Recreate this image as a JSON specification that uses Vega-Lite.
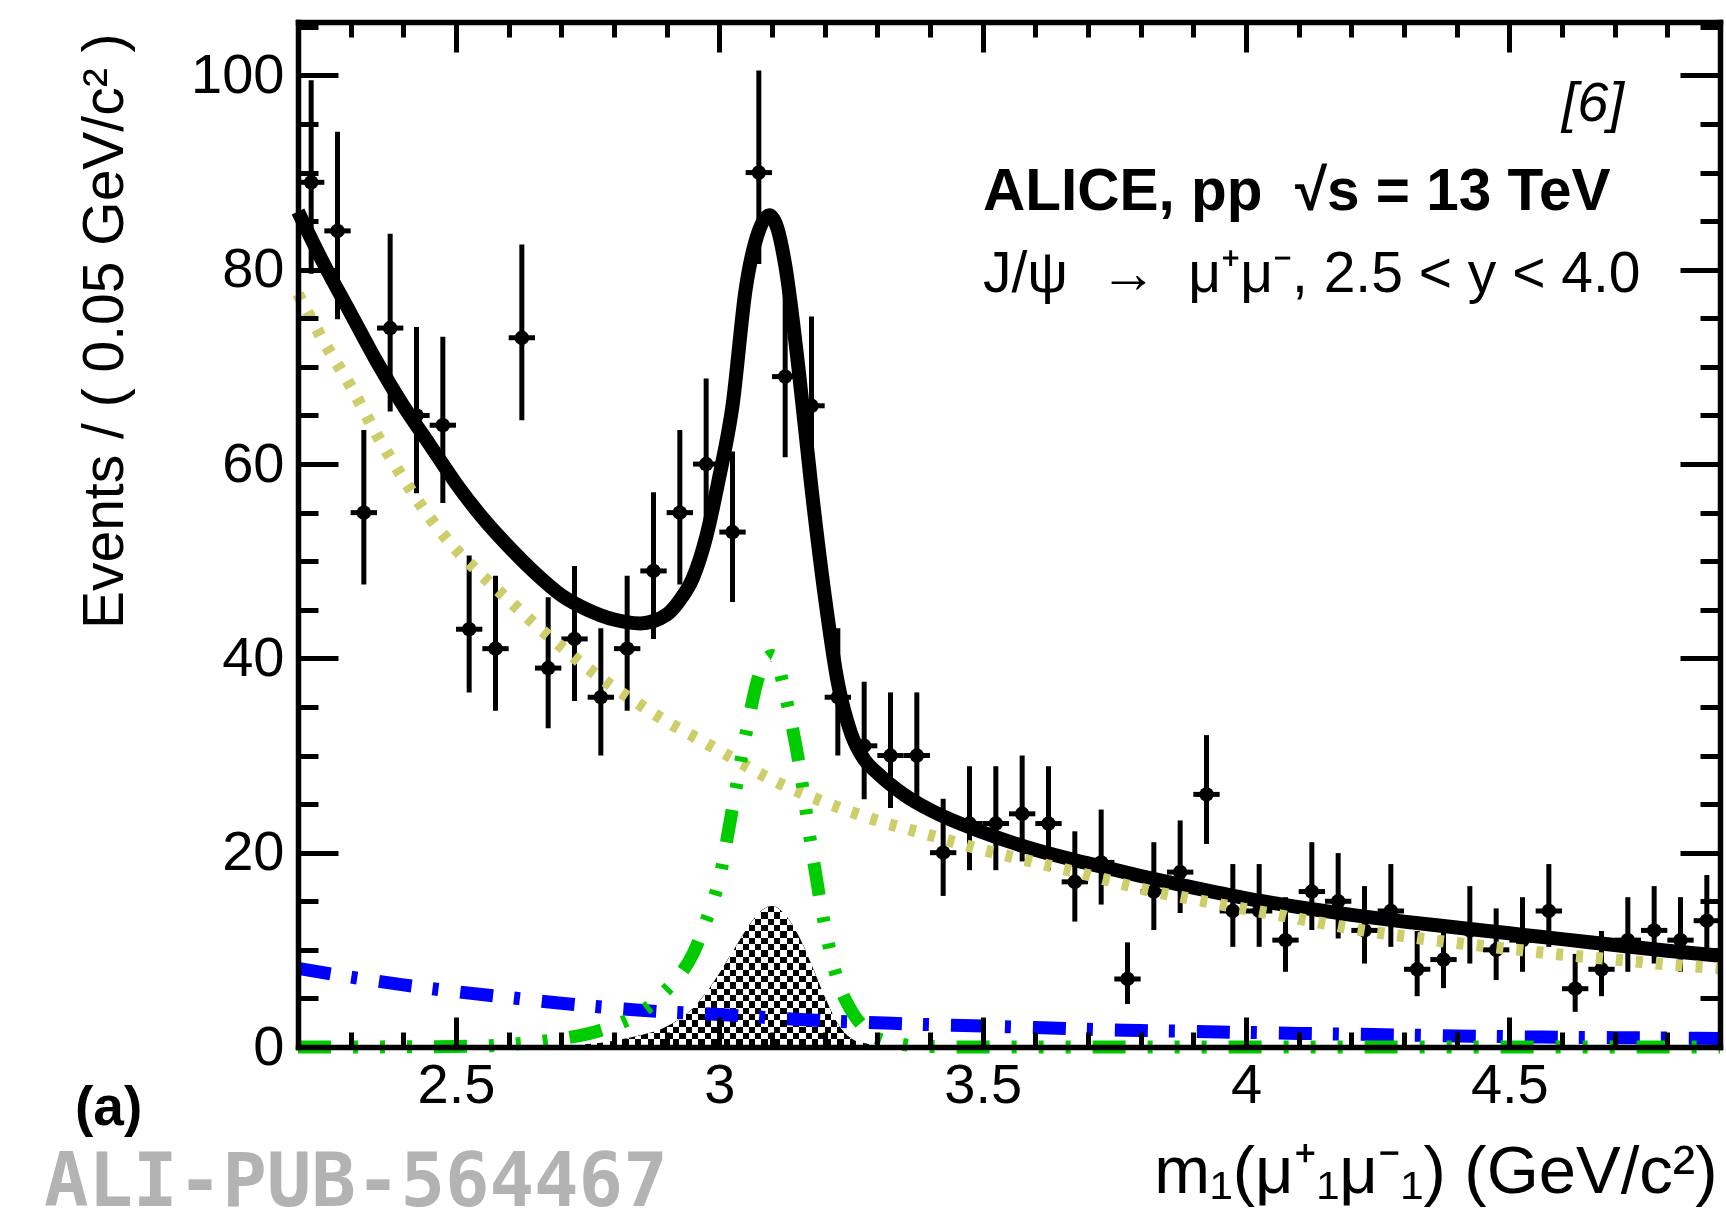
{
  "$schema": "https://vega.github.io/schema/vega-lite/v6.json",
  "width": 1422,
  "height": 1025,
  "autosize": {"type": "none"},
  "padding": {"left": 298, "top": 22, "right": 6, "bottom": 179},
  "background": "white",
  "config": {
    "view": {"stroke": null},
    "font": "Liberation Sans",
    "axis": {"grid": false, "labelFont": "Liberation Sans", "titleFont": "Liberation Sans", "labelColor": "black", "titleColor": "black", "tickColor": "black", "domainColor": "black"}
  },
  "datasets": {
    "points": [
      {"m": 2.225, "n": 89, "lo": 79.6, "hi": 99.5, "m1": 2.2, "m2": 2.25},
      {"m": 2.275, "n": 84, "lo": 74.9, "hi": 94.2, "m1": 2.25, "m2": 2.3},
      {"m": 2.325, "n": 55, "lo": 47.6, "hi": 63.5, "m1": 2.3, "m2": 2.35},
      {"m": 2.375, "n": 74, "lo": 65.4, "hi": 83.7, "m1": 2.35, "m2": 2.4},
      {"m": 2.425, "n": 65, "lo": 57.0, "hi": 74.1, "m1": 2.4, "m2": 2.45},
      {"m": 2.475, "n": 64, "lo": 56.0, "hi": 73.1, "m1": 2.45, "m2": 2.5},
      {"m": 2.525, "n": 43, "lo": 36.5, "hi": 50.6, "m1": 2.5, "m2": 2.55},
      {"m": 2.575, "n": 41, "lo": 34.6, "hi": 48.5, "m1": 2.55, "m2": 2.6},
      {"m": 2.625, "n": 73, "lo": 64.5, "hi": 82.6, "m1": 2.6, "m2": 2.65},
      {"m": 2.675, "n": 39, "lo": 32.8, "hi": 46.3, "m1": 2.65, "m2": 2.7},
      {"m": 2.725, "n": 42, "lo": 35.6, "hi": 49.5, "m1": 2.7, "m2": 2.75},
      {"m": 2.775, "n": 36, "lo": 30.0, "hi": 43.1, "m1": 2.75, "m2": 2.8},
      {"m": 2.825, "n": 41, "lo": 34.6, "hi": 48.5, "m1": 2.8, "m2": 2.85},
      {"m": 2.875, "n": 49, "lo": 42.0, "hi": 57.1, "m1": 2.85, "m2": 2.9},
      {"m": 2.925, "n": 55, "lo": 47.6, "hi": 63.5, "m1": 2.9, "m2": 2.95},
      {"m": 2.975, "n": 60, "lo": 52.3, "hi": 68.8, "m1": 2.95, "m2": 3.0},
      {"m": 3.025, "n": 53, "lo": 45.8, "hi": 61.3, "m1": 3.0, "m2": 3.05},
      {"m": 3.075, "n": 90, "lo": 80.6, "hi": 100.5, "m1": 3.05, "m2": 3.1},
      {"m": 3.125, "n": 69, "lo": 60.7, "hi": 78.4, "m1": 3.1, "m2": 3.15},
      {"m": 3.175, "n": 66, "lo": 57.9, "hi": 75.2, "m1": 3.15, "m2": 3.2},
      {"m": 3.225, "n": 36, "lo": 30.0, "hi": 43.1, "m1": 3.2, "m2": 3.25},
      {"m": 3.275, "n": 31, "lo": 25.5, "hi": 37.6, "m1": 3.25, "m2": 3.3},
      {"m": 3.325, "n": 30, "lo": 24.6, "hi": 36.5, "m1": 3.3, "m2": 3.35},
      {"m": 3.375, "n": 30, "lo": 24.6, "hi": 36.5, "m1": 3.35, "m2": 3.4},
      {"m": 3.425, "n": 20, "lo": 15.55, "hi": 25.55, "m1": 3.4, "m2": 3.45},
      {"m": 3.475, "n": 23, "lo": 18.2, "hi": 28.9, "m1": 3.45, "m2": 3.5},
      {"m": 3.525, "n": 23, "lo": 18.2, "hi": 28.9, "m1": 3.5, "m2": 3.55},
      {"m": 3.575, "n": 24, "lo": 19.1, "hi": 30.0, "m1": 3.55, "m2": 3.6},
      {"m": 3.625, "n": 23, "lo": 18.2, "hi": 28.9, "m1": 3.6, "m2": 3.65},
      {"m": 3.675, "n": 17, "lo": 12.91, "hi": 22.2, "m1": 3.65, "m2": 3.7},
      {"m": 3.725, "n": 19, "lo": 14.66, "hi": 24.44, "m1": 3.7, "m2": 3.75},
      {"m": 3.775, "n": 7, "lo": 4.42, "hi": 10.77, "m1": 3.75, "m2": 3.8},
      {"m": 3.825, "n": 16, "lo": 12.04, "hi": 21.08, "m1": 3.8, "m2": 3.85},
      {"m": 3.875, "n": 18, "lo": 13.79, "hi": 23.32, "m1": 3.85, "m2": 3.9},
      {"m": 3.925, "n": 26, "lo": 20.9, "hi": 32.1, "m1": 3.9, "m2": 3.95},
      {"m": 3.975, "n": 14, "lo": 10.31, "hi": 18.83, "m1": 3.95, "m2": 4.0},
      {"m": 4.025, "n": 14, "lo": 10.31, "hi": 18.83, "m1": 4.0, "m2": 4.05},
      {"m": 4.075, "n": 11, "lo": 7.74, "hi": 15.42, "m1": 4.05, "m2": 4.1},
      {"m": 4.125, "n": 16, "lo": 12.04, "hi": 21.08, "m1": 4.1, "m2": 4.15},
      {"m": 4.175, "n": 15, "lo": 11.17, "hi": 19.96, "m1": 4.15, "m2": 4.2},
      {"m": 4.225, "n": 12, "lo": 8.59, "hi": 16.56, "m1": 4.2, "m2": 4.25},
      {"m": 4.275, "n": 14, "lo": 10.31, "hi": 18.83, "m1": 4.25, "m2": 4.3},
      {"m": 4.325, "n": 8, "lo": 5.23, "hi": 11.94, "m1": 4.3, "m2": 4.35},
      {"m": 4.375, "n": 9, "lo": 6.06, "hi": 13.09, "m1": 4.35, "m2": 4.4},
      {"m": 4.425, "n": 12, "lo": 8.59, "hi": 16.56, "m1": 4.4, "m2": 4.45},
      {"m": 4.475, "n": 10, "lo": 6.89, "hi": 14.27, "m1": 4.45, "m2": 4.5},
      {"m": 4.525, "n": 11, "lo": 7.74, "hi": 15.42, "m1": 4.5, "m2": 4.55},
      {"m": 4.575, "n": 14, "lo": 10.31, "hi": 18.83, "m1": 4.55, "m2": 4.6},
      {"m": 4.625, "n": 6, "lo": 3.62, "hi": 9.58, "m1": 4.6, "m2": 4.65},
      {"m": 4.675, "n": 8, "lo": 5.23, "hi": 11.94, "m1": 4.65, "m2": 4.7},
      {"m": 4.725, "n": 11, "lo": 7.74, "hi": 15.42, "m1": 4.7, "m2": 4.75},
      {"m": 4.775, "n": 12, "lo": 8.59, "hi": 16.56, "m1": 4.75, "m2": 4.8},
      {"m": 4.825, "n": 11, "lo": 7.74, "hi": 15.42, "m1": 4.8, "m2": 4.85},
      {"m": 4.875, "n": 13, "lo": 9.45, "hi": 17.7, "m1": 4.85, "m2": 4.9}
    ],
    "total": [
      {"m": 2.2, "v": 86}, {"m": 2.25, "v": 80.5}, {"m": 2.3, "v": 75.5}, {"m": 2.35, "v": 70.5},
      {"m": 2.4, "v": 66}, {"m": 2.45, "v": 62}, {"m": 2.5, "v": 58}, {"m": 2.55, "v": 54.5},
      {"m": 2.6, "v": 51.5}, {"m": 2.65, "v": 48.8}, {"m": 2.7, "v": 46.5}, {"m": 2.75, "v": 45},
      {"m": 2.8, "v": 44}, {"m": 2.85, "v": 43.6}, {"m": 2.9, "v": 44.5}, {"m": 2.925, "v": 46},
      {"m": 2.95, "v": 48.3}, {"m": 2.975, "v": 52.5}, {"m": 3.0, "v": 58.7}, {"m": 3.025, "v": 66},
      {"m": 3.05, "v": 78}, {"m": 3.075, "v": 84}, {"m": 3.095, "v": 85.6}, {"m": 3.11, "v": 84.3},
      {"m": 3.125, "v": 80.5}, {"m": 3.15, "v": 70}, {"m": 3.175, "v": 57.5}, {"m": 3.2, "v": 46.5},
      {"m": 3.225, "v": 37.5}, {"m": 3.25, "v": 32.3}, {"m": 3.275, "v": 29.6}, {"m": 3.3, "v": 28.2},
      {"m": 3.35, "v": 26}, {"m": 3.4, "v": 24.4}, {"m": 3.5, "v": 22.1}, {"m": 3.6, "v": 20.3},
      {"m": 3.7, "v": 18.9}, {"m": 3.8, "v": 17.6}, {"m": 3.9, "v": 16.4}, {"m": 4.0, "v": 15.3},
      {"m": 4.1, "v": 14.4}, {"m": 4.2, "v": 13.6}, {"m": 4.3, "v": 12.9}, {"m": 4.4, "v": 12.3},
      {"m": 4.5, "v": 11.7}, {"m": 4.6, "v": 11.1}, {"m": 4.7, "v": 10.5}, {"m": 4.8, "v": 9.9},
      {"m": 4.9, "v": 9.4}
    ],
    "bkg": [
      {"m": 2.2, "v": 77.5}, {"m": 2.25, "v": 72.5}, {"m": 2.3, "v": 68}, {"m": 2.35, "v": 63},
      {"m": 2.4, "v": 58.5}, {"m": 2.45, "v": 54.5}, {"m": 2.5, "v": 51.2}, {"m": 2.55, "v": 48.5},
      {"m": 2.6, "v": 46}, {"m": 2.65, "v": 43.5}, {"m": 2.7, "v": 41.2}, {"m": 2.75, "v": 39},
      {"m": 2.8, "v": 37}, {"m": 2.85, "v": 35.2}, {"m": 2.9, "v": 33.5}, {"m": 2.95, "v": 32},
      {"m": 3.0, "v": 30.5}, {"m": 3.1, "v": 27.5}, {"m": 3.2, "v": 25.2}, {"m": 3.3, "v": 23.3},
      {"m": 3.4, "v": 21.8}, {"m": 3.5, "v": 20.3}, {"m": 3.6, "v": 19.0}, {"m": 3.7, "v": 17.7},
      {"m": 3.8, "v": 16.3}, {"m": 3.9, "v": 15.2}, {"m": 4.0, "v": 14.2}, {"m": 4.1, "v": 13.2},
      {"m": 4.2, "v": 12.2}, {"m": 4.3, "v": 11.4}, {"m": 4.4, "v": 10.7}, {"m": 4.5, "v": 10.1},
      {"m": 4.6, "v": 9.5}, {"m": 4.7, "v": 9.0}, {"m": 4.8, "v": 8.5}, {"m": 4.9, "v": 8.1}
    ],
    "blue": [
      {"m": 2.2, "v": 8.1}, {"m": 2.3, "v": 7.2}, {"m": 2.4, "v": 6.4}, {"m": 2.5, "v": 5.7},
      {"m": 2.6, "v": 5.1}, {"m": 2.7, "v": 4.5}, {"m": 2.8, "v": 4.0}, {"m": 2.9, "v": 3.6},
      {"m": 3.0, "v": 3.35}, {"m": 3.1, "v": 3.0}, {"m": 3.2, "v": 2.7}, {"m": 3.3, "v": 2.5},
      {"m": 3.4, "v": 2.3}, {"m": 3.5, "v": 2.15}, {"m": 3.6, "v": 2.0}, {"m": 3.7, "v": 1.82},
      {"m": 3.8, "v": 1.7}, {"m": 3.9, "v": 1.6}, {"m": 4.0, "v": 1.5}, {"m": 4.1, "v": 1.4},
      {"m": 4.2, "v": 1.32}, {"m": 4.3, "v": 1.23}, {"m": 4.4, "v": 1.14}, {"m": 4.5, "v": 1.06},
      {"m": 4.6, "v": 1.0}, {"m": 4.7, "v": 0.96}, {"m": 4.8, "v": 0.92}, {"m": 4.9, "v": 0.88}
    ],
    "green": [
      {"m": 2.2, "v": 0}, {"m": 2.4, "v": 0.02}, {"m": 2.5, "v": 0.05}, {"m": 2.6, "v": 0.25},
      {"m": 2.65, "v": 0.5}, {"m": 2.7, "v": 0.85}, {"m": 2.75, "v": 1.35}, {"m": 2.8, "v": 2.2},
      {"m": 2.85, "v": 3.5}, {"m": 2.9, "v": 5.9}, {"m": 2.925, "v": 7.4}, {"m": 2.95, "v": 9.6},
      {"m": 2.975, "v": 13.0}, {"m": 3.0, "v": 17.3}, {"m": 3.025, "v": 24.6}, {"m": 3.05, "v": 32.1},
      {"m": 3.075, "v": 38.2}, {"m": 3.09, "v": 40.0}, {"m": 3.1, "v": 40.3}, {"m": 3.11, "v": 39.6},
      {"m": 3.125, "v": 36.3}, {"m": 3.15, "v": 29.6}, {"m": 3.175, "v": 20.5}, {"m": 3.2, "v": 12.5},
      {"m": 3.225, "v": 6.8}, {"m": 3.25, "v": 3.8}, {"m": 3.275, "v": 2.0}, {"m": 3.3, "v": 0.9},
      {"m": 3.35, "v": 0.25}, {"m": 3.4, "v": 0.05}, {"m": 3.5, "v": 0}, {"m": 4.9, "v": 0}
    ],
    "hatch": [
      {"m": 2.72, "v": 0.15}, {"m": 2.75, "v": 0.3}, {"m": 2.8, "v": 0.65}, {"m": 2.85, "v": 1.2},
      {"m": 2.9, "v": 2.1}, {"m": 2.925, "v": 2.9}, {"m": 2.95, "v": 4.0}, {"m": 2.975, "v": 5.6},
      {"m": 3.0, "v": 7.6}, {"m": 3.025, "v": 9.8}, {"m": 3.05, "v": 12.0}, {"m": 3.075, "v": 13.8},
      {"m": 3.1, "v": 14.5}, {"m": 3.125, "v": 13.6}, {"m": 3.15, "v": 11.5}, {"m": 3.175, "v": 8.5},
      {"m": 3.2, "v": 5.2}, {"m": 3.225, "v": 2.4}, {"m": 3.25, "v": 0.9}, {"m": 3.275, "v": 0.4},
      {"m": 3.3, "v": 0.15}, {"m": 3.32, "v": 0.05}
    ]
  },
  "resolve": {"axis": {"x": "independent", "y": "independent"}},
  "layer": [
    {
      "data": {"name": "points"},
      "mark": {"type": "rule", "color": "black", "strokeWidth": 5},
      "encoding": {
        "x": {"field": "m1", "type": "quantitative", "scale": {"domain": [2.2, 4.9], "nice": false, "zero": false},
          "axis": {"orient": "bottom", "values": [2.5, 3, 3.5, 4, 4.5], "format": "~g", "ticks": false, "domain": false,
            "labelFontSize": 56, "labelPadding": 11, "labelFlush": false, "labelOverlap": false,
            "title": "m₁(μ⁺₁μ⁻₁) (GeV/c²)", "titleFontSize": 67, "titleFontWeight": "normal",
            "titleAlign": "right", "titleBaseline": "alphabetic", "titleAnchor": "end", "titleX": 1419, "titleY": 145}},
        "x2": {"field": "m2"},
        "y": {"field": "n", "type": "quantitative", "scale": {"domain": [0, 105.5], "nice": false, "zero": false},
          "axis": {"orient": "left", "values": [0, 20, 40, 60, 80, 100], "format": "d", "ticks": false, "domain": false,
            "labelFontSize": 56, "labelPadding": 14, "labelOverlap": false,
            "title": "Events / ( 0.05 GeV/c² )", "titleFontSize": 57, "titleFontWeight": "normal",
            "titleAngle": -90, "titleAlign": "right", "titleBaseline": "bottom", "titleAnchor": "end", "titleX": -164, "titleY": 11}}
      }
    },
    {
      "data": {"name": "points"},
      "mark": {"type": "rule", "color": "black", "strokeWidth": 5},
      "encoding": {
        "x": {"field": "m", "type": "quantitative", "scale": {"domain": [2.2, 4.9], "nice": false, "zero": false},
          "axis": {"orient": "bottom", "values": [2.5, 3, 3.5, 4, 4.5], "labels": false, "title": null,
            "tickSize": -30, "tickWidth": 5, "domain": true, "domainWidth": 5.5, "domainCap": "square", "zindex": 2}},
        "y": {"field": "lo", "type": "quantitative", "scale": {"domain": [0, 105.5], "nice": false, "zero": false},
          "axis": {"orient": "left", "values": [0, 20, 40, 60, 80, 100], "labels": false, "title": null,
            "tickSize": -40, "tickWidth": 5, "domain": true, "domainWidth": 5.5, "domainCap": "square", "zindex": 2}},
        "y2": {"field": "hi"}
      }
    },
    {
      "data": {"name": "points"},
      "mark": {"type": "point", "shape": "circle", "filled": true, "color": "black", "opacity": 1, "size": 210},
      "encoding": {
        "x": {"field": "m", "type": "quantitative", "scale": {"domain": [2.2, 4.9], "nice": false, "zero": false},
          "axis": {"orient": "bottom", "values": [2.2, 2.3, 2.4, 2.5, 2.6, 2.7, 2.8, 2.9, 3.0, 3.1, 3.2, 3.3, 3.4, 3.5, 3.6, 3.7, 3.8, 3.9, 4.0, 4.1, 4.2, 4.3, 4.4, 4.5, 4.6, 4.7, 4.8, 4.9],
            "labels": false, "title": null, "tickSize": -15, "tickWidth": 5, "domain": false, "zindex": 2}},
        "y": {"field": "n", "type": "quantitative", "scale": {"domain": [0, 105.5], "nice": false, "zero": false},
          "axis": {"orient": "left", "values": [0, 5, 10, 15, 20, 25, 30, 35, 40, 45, 50, 55, 60, 65, 70, 75, 80, 85, 90, 95, 100, 105],
            "labels": false, "title": null, "tickSize": -20, "tickWidth": 5, "domain": false, "zindex": 2}}
      }
    },
    {
      "data": {"name": "total"},
      "mark": {"type": "line", "color": "black", "strokeWidth": 14, "interpolate": "monotone"},
      "encoding": {
        "x": {"field": "m", "type": "quantitative", "scale": {"domain": [2.2, 4.9], "nice": false, "zero": false},
          "axis": {"orient": "top", "values": [2.5, 3, 3.5, 4, 4.5], "labels": false, "title": null,
            "tickSize": -30, "tickWidth": 5, "domain": true, "domainWidth": 5.5, "domainCap": "square", "zindex": 2}},
        "y": {"field": "v", "type": "quantitative", "scale": {"domain": [0, 105.5], "nice": false, "zero": false},
          "axis": {"orient": "right", "values": [0, 20, 40, 60, 80, 100], "labels": false, "title": null,
            "tickSize": -40, "tickWidth": 5, "domain": true, "domainWidth": 5.5, "domainCap": "square", "zindex": 2}}
      }
    },
    {
      "data": {"name": "hatch"},
      "mark": {"type": "area", "interpolate": "monotone",
        "fill": {"gradient": "linear", "x1": 0, "y1": 0, "x2": 1, "y2": 0, "stops": [
          {"offset": 0, "color": "#000"}, {"offset": 0.02, "color": "#000"}, {"offset": 0.02, "color": "#fff"}, {"offset": 0.04, "color": "#fff"},
          {"offset": 0.04, "color": "#000"}, {"offset": 0.06, "color": "#000"}, {"offset": 0.06, "color": "#fff"}, {"offset": 0.08, "color": "#fff"},
          {"offset": 0.08, "color": "#000"}, {"offset": 0.1, "color": "#000"}, {"offset": 0.1, "color": "#fff"}, {"offset": 0.12, "color": "#fff"},
          {"offset": 0.12, "color": "#000"}, {"offset": 0.14, "color": "#000"}, {"offset": 0.14, "color": "#fff"}, {"offset": 0.16, "color": "#fff"},
          {"offset": 0.16, "color": "#000"}, {"offset": 0.18, "color": "#000"}, {"offset": 0.18, "color": "#fff"}, {"offset": 0.2, "color": "#fff"},
          {"offset": 0.2, "color": "#000"}, {"offset": 0.22, "color": "#000"}, {"offset": 0.22, "color": "#fff"}, {"offset": 0.24, "color": "#fff"},
          {"offset": 0.24, "color": "#000"}, {"offset": 0.26, "color": "#000"}, {"offset": 0.26, "color": "#fff"}, {"offset": 0.28, "color": "#fff"},
          {"offset": 0.28, "color": "#000"}, {"offset": 0.3, "color": "#000"}, {"offset": 0.3, "color": "#fff"}, {"offset": 0.32, "color": "#fff"},
          {"offset": 0.32, "color": "#000"}, {"offset": 0.34, "color": "#000"}, {"offset": 0.34, "color": "#fff"}, {"offset": 0.36, "color": "#fff"},
          {"offset": 0.36, "color": "#000"}, {"offset": 0.38, "color": "#000"}, {"offset": 0.38, "color": "#fff"}, {"offset": 0.4, "color": "#fff"},
          {"offset": 0.4, "color": "#000"}, {"offset": 0.42, "color": "#000"}, {"offset": 0.42, "color": "#fff"}, {"offset": 0.44, "color": "#fff"},
          {"offset": 0.44, "color": "#000"}, {"offset": 0.46, "color": "#000"}, {"offset": 0.46, "color": "#fff"}, {"offset": 0.48, "color": "#fff"},
          {"offset": 0.48, "color": "#000"}, {"offset": 0.5, "color": "#000"}, {"offset": 0.5, "color": "#fff"}, {"offset": 0.52, "color": "#fff"},
          {"offset": 0.52, "color": "#000"}, {"offset": 0.54, "color": "#000"}, {"offset": 0.54, "color": "#fff"}, {"offset": 0.56, "color": "#fff"},
          {"offset": 0.56, "color": "#000"}, {"offset": 0.58, "color": "#000"}, {"offset": 0.58, "color": "#fff"}, {"offset": 0.6, "color": "#fff"},
          {"offset": 0.6, "color": "#000"}, {"offset": 0.62, "color": "#000"}, {"offset": 0.62, "color": "#fff"}, {"offset": 0.64, "color": "#fff"},
          {"offset": 0.64, "color": "#000"}, {"offset": 0.66, "color": "#000"}, {"offset": 0.66, "color": "#fff"}, {"offset": 0.68, "color": "#fff"},
          {"offset": 0.68, "color": "#000"}, {"offset": 0.7, "color": "#000"}, {"offset": 0.7, "color": "#fff"}, {"offset": 0.72, "color": "#fff"},
          {"offset": 0.72, "color": "#000"}, {"offset": 0.74, "color": "#000"}, {"offset": 0.74, "color": "#fff"}, {"offset": 0.76, "color": "#fff"},
          {"offset": 0.76, "color": "#000"}, {"offset": 0.78, "color": "#000"}, {"offset": 0.78, "color": "#fff"}, {"offset": 0.8, "color": "#fff"},
          {"offset": 0.8, "color": "#000"}, {"offset": 0.82, "color": "#000"}, {"offset": 0.82, "color": "#fff"}, {"offset": 0.84, "color": "#fff"},
          {"offset": 0.84, "color": "#000"}, {"offset": 0.86, "color": "#000"}, {"offset": 0.86, "color": "#fff"}, {"offset": 0.88, "color": "#fff"},
          {"offset": 0.88, "color": "#000"}, {"offset": 0.9, "color": "#000"}, {"offset": 0.9, "color": "#fff"}, {"offset": 0.92, "color": "#fff"},
          {"offset": 0.92, "color": "#000"}, {"offset": 0.94, "color": "#000"}, {"offset": 0.94, "color": "#fff"}, {"offset": 0.96, "color": "#fff"},
          {"offset": 0.96, "color": "#000"}, {"offset": 0.98, "color": "#000"}, {"offset": 0.98, "color": "#fff"}, {"offset": 1, "color": "#fff"}
        ]}},
      "encoding": {
        "x": {"field": "m", "type": "quantitative", "scale": {"domain": [2.2, 4.9], "nice": false, "zero": false},
          "axis": {"orient": "top", "values": [2.2, 2.3, 2.4, 2.5, 2.6, 2.7, 2.8, 2.9, 3.0, 3.1, 3.2, 3.3, 3.4, 3.5, 3.6, 3.7, 3.8, 3.9, 4.0, 4.1, 4.2, 4.3, 4.4, 4.5, 4.6, 4.7, 4.8, 4.9],
            "labels": false, "title": null, "tickSize": -15, "tickWidth": 5, "domain": false, "zindex": 2}},
        "y": {"field": "v", "type": "quantitative", "scale": {"domain": [0, 105.5], "nice": false, "zero": false},
          "axis": {"orient": "right", "values": [0, 5, 10, 15, 20, 25, 30, 35, 40, 45, 50, 55, 60, 65, 70, 75, 80, 85, 90, 95, 100, 105],
            "labels": false, "title": null, "tickSize": -20, "tickWidth": 5, "domain": false, "zindex": 2}}
      }
    },
    {
      "data": {"name": "hatch"},
      "mark": {"type": "area", "interpolate": "monotone", "blend": "difference",
        "fill": {"gradient": "linear", "x1": 0, "y1": 0, "x2": 0, "y2": 1, "stops": [
          {"offset": 0, "color": "#fff"}, {"offset": 0.045, "color": "#fff"}, {"offset": 0.045, "color": "#000"}, {"offset": 0.09, "color": "#000"},
          {"offset": 0.09, "color": "#fff"}, {"offset": 0.135, "color": "#fff"}, {"offset": 0.135, "color": "#000"}, {"offset": 0.18, "color": "#000"},
          {"offset": 0.18, "color": "#fff"}, {"offset": 0.225, "color": "#fff"}, {"offset": 0.225, "color": "#000"}, {"offset": 0.27, "color": "#000"},
          {"offset": 0.27, "color": "#fff"}, {"offset": 0.315, "color": "#fff"}, {"offset": 0.315, "color": "#000"}, {"offset": 0.36, "color": "#000"},
          {"offset": 0.36, "color": "#fff"}, {"offset": 0.405, "color": "#fff"}, {"offset": 0.405, "color": "#000"}, {"offset": 0.45, "color": "#000"},
          {"offset": 0.45, "color": "#fff"}, {"offset": 0.495, "color": "#fff"}, {"offset": 0.495, "color": "#000"}, {"offset": 0.54, "color": "#000"},
          {"offset": 0.54, "color": "#fff"}, {"offset": 0.585, "color": "#fff"}, {"offset": 0.585, "color": "#000"}, {"offset": 0.63, "color": "#000"},
          {"offset": 0.63, "color": "#fff"}, {"offset": 0.675, "color": "#fff"}, {"offset": 0.675, "color": "#000"}, {"offset": 0.72, "color": "#000"},
          {"offset": 0.72, "color": "#fff"}, {"offset": 0.765, "color": "#fff"}, {"offset": 0.765, "color": "#000"}, {"offset": 0.81, "color": "#000"},
          {"offset": 0.81, "color": "#fff"}, {"offset": 0.855, "color": "#fff"}, {"offset": 0.855, "color": "#000"}, {"offset": 0.9, "color": "#000"},
          {"offset": 0.9, "color": "#fff"}, {"offset": 0.945, "color": "#fff"}, {"offset": 0.945, "color": "#000"}, {"offset": 0.99, "color": "#000"},
          {"offset": 0.99, "color": "#fff"}, {"offset": 1, "color": "#fff"}
        ]}},
      "encoding": {
        "x": {"field": "m", "type": "quantitative", "scale": {"domain": [2.2, 4.9], "nice": false, "zero": false}, "axis": null},
        "y": {"field": "v", "type": "quantitative", "scale": {"domain": [0, 105.5], "nice": false, "zero": false}, "axis": null}
      }
    },
    {
      "data": {"name": "bkg"},
      "mark": {"type": "line", "color": "#cdcd6a", "strokeWidth": 12, "strokeDash": [7, 13], "interpolate": "monotone"},
      "encoding": {
        "x": {"field": "m", "type": "quantitative", "scale": {"domain": [2.2, 4.9], "nice": false, "zero": false}, "axis": null},
        "y": {"field": "v", "type": "quantitative", "scale": {"domain": [0, 105.5], "nice": false, "zero": false}, "axis": null}
      }
    },
    {
      "data": {"name": "blue"},
      "mark": {"type": "line", "color": "#0000ff", "strokeWidth": 13, "strokeDash": [33, 21, 6, 22], "interpolate": "monotone"},
      "encoding": {
        "x": {"field": "m", "type": "quantitative", "scale": {"domain": [2.2, 4.9], "nice": false, "zero": false}, "axis": null},
        "y": {"field": "v", "type": "quantitative", "scale": {"domain": [0, 105.5], "nice": false, "zero": false}, "axis": null}
      }
    },
    {
      "data": {"name": "green"},
      "mark": {"type": "line", "color": "#00cc00", "strokeWidth": 13, "strokeDash": [33, 22, 5, 22, 5, 22, 5, 22], "interpolate": "monotone"},
      "encoding": {
        "x": {"field": "m", "type": "quantitative", "scale": {"domain": [2.2, 4.9], "nice": false, "zero": false}, "axis": null},
        "y": {"field": "v", "type": "quantitative", "scale": {"domain": [0, 105.5], "nice": false, "zero": false}, "axis": null}
      }
    },
    {
      "data": {"values": [{}]},
      "mark": {"type": "text", "text": "[6]", "font": "Liberation Sans", "fontSize": 56, "fontStyle": "italic", "align": "right", "baseline": "alphabetic", "color": "black"},
      "encoding": {
        "x": {"datum": 4.7177, "type": "quantitative", "scale": {"domain": [2.2, 4.9], "nice": false, "zero": false}, "axis": null},
        "y": {"datum": 95.26, "type": "quantitative", "scale": {"domain": [0, 105.5], "nice": false, "zero": false}, "axis": null}
      }
    },
    {
      "data": {"values": [{}]},
      "mark": {"type": "text", "text": "ALICE, pp \u00a0√s = 13 TeV", "font": "Liberation Sans", "fontSize": 58.5, "fontWeight": "bold", "align": "left", "baseline": "alphabetic", "color": "black"},
      "encoding": {
        "x": {"datum": 3.5006, "type": "quantitative", "scale": {"domain": [2.2, 4.9], "nice": false, "zero": false}, "axis": null},
        "y": {"datum": 86.2, "type": "quantitative", "scale": {"domain": [0, 105.5], "nice": false, "zero": false}, "axis": null}
      }
    },
    {
      "data": {"values": [{}]},
      "mark": {"type": "text", "text": "J/ψ \u00a0→ \u00a0μ⁺μ⁻, 2.5 < y < 4.0", "font": "Liberation Sans", "fontSize": 57, "align": "left", "baseline": "alphabetic", "color": "black"},
      "encoding": {
        "x": {"datum": 3.5006, "type": "quantitative", "scale": {"domain": [2.2, 4.9], "nice": false, "zero": false}, "axis": null},
        "y": {"datum": 77.66, "type": "quantitative", "scale": {"domain": [0, 105.5], "nice": false, "zero": false}, "axis": null}
      }
    },
    {
      "data": {"values": [{}]},
      "mark": {"type": "text", "text": "(a)", "font": "Liberation Sans", "fontSize": 55, "fontWeight": "bold", "align": "left", "baseline": "alphabetic", "color": "black"},
      "encoding": {
        "x": {"datum": 1.7766, "type": "quantitative", "scale": {"domain": [2.2, 4.9], "nice": false, "zero": false}, "axis": null},
        "y": {"datum": -8.0, "type": "quantitative", "scale": {"domain": [0, 105.5], "nice": false, "zero": false}, "axis": null}
      }
    },
    {
      "data": {"values": [{}]},
      "mark": {"type": "text", "text": "ALI-PUB-564467", "font": "DejaVu Sans Mono", "fontSize": 74, "fontWeight": "bold", "align": "left", "baseline": "alphabetic", "color": "#b3b3b3"},
      "encoding": {
        "x": {"datum": 1.7177, "type": "quantitative", "scale": {"domain": [2.2, 4.9], "nice": false, "zero": false}, "axis": null},
        "y": {"datum": -16.4, "type": "quantitative", "scale": {"domain": [0, 105.5], "nice": false, "zero": false}, "axis": null}
      }
    }
  ]
}
